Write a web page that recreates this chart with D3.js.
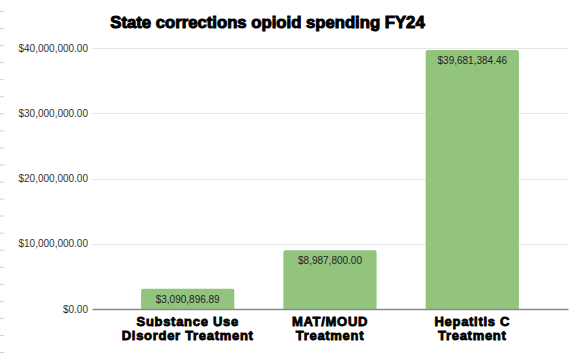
<!DOCTYPE html>
<html>
<head>
<meta charset="utf-8">
<script src="https://cdn.jsdelivr.net/npm/d3@7"></script>
<style>
  html, body { margin: 0; padding: 0; background: #fff; }
  svg { display: block; }
</style>
</head>
<body>
<svg id="chart" width="575" height="357"></svg>
<script>
const categories = [["Substance Use", "Disorder Treatment"], ["MAT/MOUD", "Treatment"], ["Hepatitis C", "Treatment"]];
const values = [3090896.89, 8987800.00, 39681384.46];
const yTicks = [0, 10000000, 20000000, 30000000, 40000000];
const title = "State corrections opioid spending FY24";

const W = 575, H = 357;
const svg = d3.select("#chart");
const heavy = "'Liberation Sans', Arial, sans-serif";

// faint edge marks on the left border
svg.append("g").selectAll("line")
  .data(d3.range(21))
  .join("line")
  .attr("x1", 0).attr("x2", 4)
  .attr("y1", i => 11.5 + i * 17.05).attr("y2", i => 11.5 + i * 17.05)
  .attr("stroke", "#d0d0d0").attr("stroke-width", 1);

const keys = categories.map(c => c.join(" "));
const x = d3.scaleBand().domain(keys).range([92, 568]).padding(0.345);
const y = d3.scaleLinear().domain([0, 40000000]).range([309, 48]);

// gridlines
svg.append("g").selectAll("line")
  .data(yTicks.filter(t => t > 0))
  .join("line")
  .attr("x1", 92).attr("x2", 568)
  .attr("y1", d => Math.round(y(d)) + 0.5).attr("y2", d => Math.round(y(d)) + 0.5)
  .attr("stroke", "#e6e6e6").attr("stroke-width", 1);

// y axis labels
const fmt = d => "$" + d3.format(",.2f")(d);
const yAxis = d3.axisLeft(y).tickValues(yTicks).tickFormat(fmt).tickSize(0).tickPadding(0);
const ya = svg.append("g").attr("transform", "translate(88,0)").call(yAxis);
ya.select(".domain").remove();
ya.selectAll("text")
  .attr("font-family", "Arial, 'Liberation Sans', sans-serif")
  .attr("font-size", 10).attr("fill", "#333");

// bars
svg.append("g").selectAll("path")
  .data(values)
  .join("path")
  .attr("d", (d, i) => {
    const x0 = x(keys[i]), w = x.bandwidth(), y0 = y(d), y1 = y(0), r = 2;
    return `M${x0},${y1}V${y0 + r}Q${x0},${y0} ${x0 + r},${y0}H${x0 + w - r}Q${x0 + w},${y0} ${x0 + w},${y0 + r}V${y1}Z`;
  })
  .attr("fill", "#93c47d");

// value labels
svg.append("g").selectAll("text")
  .data(values)
  .join("text")
  .attr("x", (d, i) => x(keys[i]) + x.bandwidth() / 2)
  .attr("y", d => y(d) + 14)
  .attr("text-anchor", "middle")
  .attr("font-family", "Arial, 'Liberation Sans', sans-serif")
  .attr("font-size", 10)
  .attr("fill", "#222")
  .text(fmt);

// baseline axis
const xa = svg.append("g").attr("transform", `translate(0,${y(0)})`)
  .call(d3.axisBottom(x).tickSize(0).tickFormat(""));
xa.select(".domain").attr("stroke", "#8a8a8a").attr("stroke-width", 1.3);

// category labels
const lab = svg.append("g").selectAll("text")
  .data(categories)
  .join("text")
  .attr("x", (d, i) => x(keys[i]) + x.bandwidth() / 2)
  .attr("y", 326)
  .attr("text-anchor", "middle")
  .attr("font-family", heavy)
  .attr("font-weight", "bold")
  .attr("font-size", 13)
  .attr("letter-spacing", 0.7)
  .attr("fill", "#000")
  .attr("stroke", "#000").attr("stroke-width", 0.8);
lab.selectAll("tspan")
  .data(d => d)
  .join("tspan")
  .attr("x", function() { return this.parentNode.getAttribute("x"); })
  .attr("dy", (d, i) => i === 0 ? 0 : 14)
  .text(d => d);

// title
svg.append("text")
  .attr("x", 267.5).attr("y", 28)
  .attr("text-anchor", "middle")
  .attr("font-family", heavy)
  .attr("font-weight", "bold")
  .attr("font-size", 16.7)
  .attr("fill", "#000")
  .attr("stroke", "#000").attr("stroke-width", 1)
  .text(title);
</script>
</body>
</html>
